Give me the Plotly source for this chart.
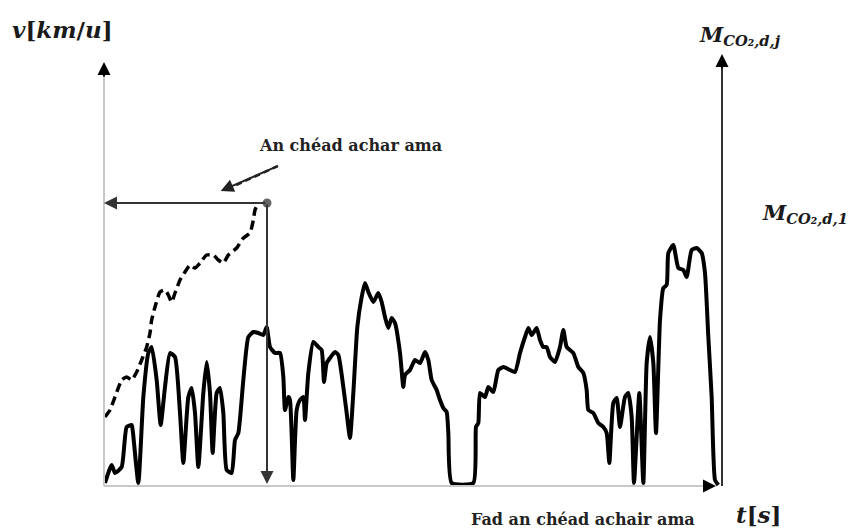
import plotly.graph_objects as go

# ---- data (time in s, speed in km/u, cumulative CO2 in arbitrary units) ----
t_speed = [3, 23, 33, 53, 68, 83, 87, 103, 118, 133, 143, 158, 170, 183, 198, 213, 228, 238,
           253, 263, 273, 283, 298, 308, 318, 326, 338, 348, 358, 368, 383, 393, 403, 418,
           433, 448, 463, 478, 488, 498, 513, 528, 538, 543, 553, 558, 568, 578, 588, 598,
           603, 613, 628, 643, 653, 660, 668, 678, 693, 703, 718, 728, 738, 748, 760, 773,
           783, 793, 808, 823, 833, 843, 853, 863, 873, 888, 898, 903, 918, 933, 948, 963,
           973, 983, 998, 1008, 1018, 1028, 1033, 1043, 1108, 1116, 1123, 1128, 1143, 1153,
           1168, 1183, 1198, 1218, 1233, 1248, 1263, 1273, 1283, 1298, 1308, 1318, 1328,
           1338, 1353, 1368, 1378, 1388, 1408, 1423, 1438, 1448, 1453, 1468, 1483, 1498,
           1508, 1516, 1528, 1538, 1548, 1563, 1573, 1583, 1590, 1606, 1618, 1628, 1638,
           1648, 1656, 1668, 1678, 1688, 1693, 1708, 1723, 1738, 1748, 1763, 1778, 1793,
           1803, 1813, 1823, 1833, 1843]
v_speed = [1.5, 10.5, 6.5, 9.5, 29.5, 30.5, 26.5, 1.5, 44.5, 66.5, 69.5, 53, 30.5, 49.5, 66.5,
           64.5, 36.5, 11.5, 44.5, 49, 36.5, 9.5, 46.5, 62, 46.5, 16.5, 46.5, 49, 36.5, 8,
           6.5, 23, 26.5, 53, 74.5, 77, 76.5, 75.5, 79.5, 69.5, 66.5, 66.5, 54.5, 38, 44.5,
           43, 3, 38, 43, 44.5, 33, 56.5, 72, 69.5, 68, 52, 61.5, 64, 67, 65.5, 49.5, 36.5,
           24, 46.5, 79.5, 94.5, 101.5, 97, 92, 96.5, 92, 84.5, 79, 84, 81.5, 66.5, 49.5,
           55.5, 58, 63, 61.5, 67, 63, 53, 48, 43, 39, 37, 26.5, 1.5, 1.5, 29.5, 31.5, 46.5,
           44.5, 49.5, 47, 58, 59.5, 58, 57, 66.5, 74.5, 79, 75.5, 79, 73, 69.5, 69.5, 64.5,
           62, 69.5, 78, 69.5, 66.5, 59.5, 56.5, 48, 38, 36.5, 31.5, 29.5, 26.5, 11.5, 41.5,
           44, 29.5, 44.5, 46.5, 34.5, 1.5, 46.5, 1.5, 61.5, 74.5, 61.5, 26.5, 83, 99, 100.5,
           116.5, 120.5, 109, 108, 104.5, 118, 119, 116.5, 106.5, 74.5, 44.5, 3, 0.5]

t_co2 = [3, 18, 33, 53, 68, 83, 98, 113, 128, 138, 143, 153, 168, 183, 193, 203, 213, 228,
         243, 258, 273, 288, 308, 328, 343, 358, 373, 398, 418, 438, 448, 453, 463]
m_co2 = [34.5, 38, 44.5, 53, 54.5, 53, 57, 63, 69.5, 76.5, 83, 89.5, 97, 98, 95.5, 92, 96.5,
         103, 107, 110.5, 109, 111.5, 115.5, 115.5, 113, 111.5, 115.5, 119, 124, 126.5, 133,
         138, 141.5]

t_first = 489      # end of the first time interval
m_first = 141.5    # CO2 value at end of first interval
t_axis_end = 1836
t_right_axis = 1854
v_axis_top = 212
m_axis_top = 216

fig = go.Figure()
fig.add_trace(go.Scatter(x=t_speed, y=v_speed, mode="lines",
                         line=dict(color="black", width=4, shape="spline", smoothing=0.5),
                         hoverinfo="skip"))
fig.add_trace(go.Scatter(x=t_co2, y=m_co2, mode="lines",
                         line=dict(color="black", width=3.5, dash="9px,5px", shape="spline",
                                   smoothing=0.5),
                         hoverinfo="skip"))
fig.add_trace(go.Scatter(x=[t_first], y=[m_first], mode="markers",
                         marker=dict(color="#666666", size=9), hoverinfo="skip"))

# axes lines
fig.add_shape(type="line", x0=0, y0=0, x1=0, y1=v_axis_top - 3, line=dict(color="#c8c8c8", width=2))
fig.add_shape(type="line", x0=0, y0=0, x1=t_axis_end - 10, y1=0, line=dict(color="#c8c8c8", width=2))
fig.add_shape(type="line", x0=t_right_axis, y0=0, x1=t_right_axis, y1=m_axis_top - 4,
              line=dict(color="#333333", width=2))

arrows = [
    # (x, y, ax, ay, color, width)
    (0, v_axis_top, 0, v_axis_top - 8, "black", 2),
    (t_axis_end, 0, t_axis_end - 30, 0, "black", 2),
    (t_right_axis, m_axis_top, t_right_axis, m_axis_top - 8, "black", 2),
    (0, m_first, t_first, m_first, "#333333", 2),
    (t_first, 1, t_first, m_first, "#333333", 2),
    (350, 147.5, 522, 160, "#222222", 2),
]
for x, y, ax, ay, col, w in arrows:
    fig.add_annotation(x=x, y=y, ax=ax, ay=ay, xref="x", yref="y", axref="x", ayref="y",
                       text="", showarrow=True, arrowhead=2, arrowsize=1.3, arrowwidth=w,
                       arrowcolor=col)
# dashed pointer line
fig.add_shape(type="line", x0=522, y0=160, x1=370, y1=148.5,
              line=dict(color="#222222", width=2.5, dash="6px,4px"))

W, H = 855, 529
def px(x, y):
    return x / W, 1 - y / H

math_font = dict(family="DejaVu Serif", size=23, color="#1a1a1a")
math_font_s = dict(family="DejaVu Serif", size=21, color="#1a1a1a")
text_font = dict(family="DejaVu Serif", size=16, color="#222222", weight="bold")

labels = [
    ("<b><i>v</i>[<i>km</i>/<i>u</i>]</b>", 63, 30, math_font),
    ("<b><i>M<sub>CO₂,d,j</sub></i></b>", 740, 36, math_font_s),
    ("<b><i>M<sub>CO₂,d,1</sub></i></b>", 805, 213, math_font_s),
    ("<b><i>t</i>[<i>s</i>]</b>", 758, 514, math_font),
    ("Fad an chéad achair ama", 583, 519, text_font),
    ("An chéad achar ama", 350, 146, text_font),
]
for txt, x, y, f in labels:
    xx, yy = px(x, y)
    fig.add_annotation(x=xx, y=yy, xref="paper", yref="paper", text=txt, showarrow=False,
                       font=f, xanchor="center", yanchor="middle")

fig.update_layout(
    width=W, height=H, margin=dict(l=0, r=0, t=0, b=0),
    paper_bgcolor="white", plot_bgcolor="white", showlegend=False,
    xaxis=dict(range=[-104 * 3, (W - 104) * 3], visible=False, fixedrange=True),
    yaxis=dict(range=[(486 - H) / 2, 486 / 2], visible=False, fixedrange=True),
)
fig.write_html("out.html", config={"displayModeBar": False},
               post_script="document.body.style.margin='0';document.body.style.overflow='hidden';")
